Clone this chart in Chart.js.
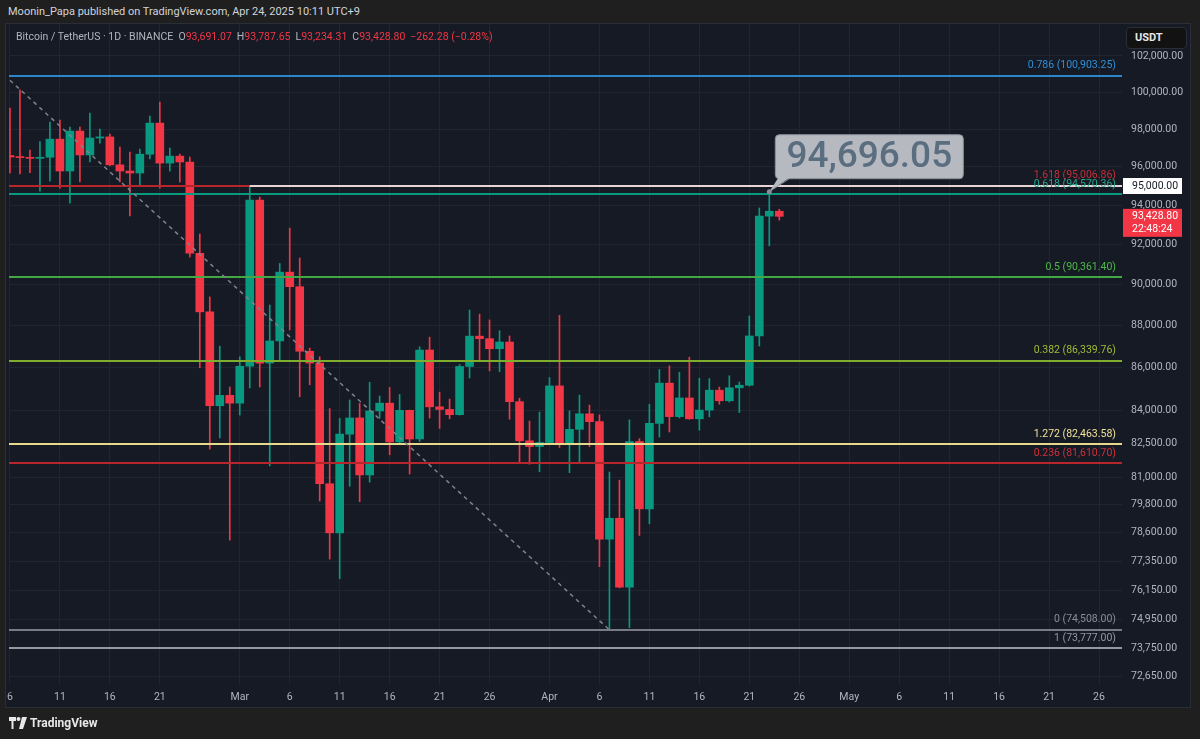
<!DOCTYPE html>
<html>
<head>
<meta charset="utf-8">
<script src="https://cdn.jsdelivr.net/npm/chart.js@4/dist/chart.umd.min.js"></script>
<style>
  body { margin: 0; width: 1200px; height: 739px; overflow: hidden; background: #1f1f1f;
         font-family: Roboto, "Liberation Sans", sans-serif; }
  #title { position: absolute; left: 8px; top: 5px; font-size: 11px; color: #d1d4dc; white-space: nowrap; }
  #panel { position: absolute; left: 5px; top: 23px; width: 1186px; height: 685px; background: #161a25;
           border: 1px solid #2a2e39; box-sizing: border-box; }
  #chart { position: absolute; left: 0; top: 0; }
  #legend { position: absolute; left: 16px; top: 30px; font-size: 10.5px; color: #b2b5be; white-space: nowrap; }
  #legend .v { color: #f23645; margin-right: 5px; }
  #usdt { position: absolute; left: 1126px; top: 27px; width: 61px; height: 22px; background: #121212;
          border: 1px solid #2a2e39; border-radius: 4px; box-sizing: border-box; color: #e6e6e6;
          font-size: 11px; font-weight: bold; line-height: 20px; padding-left: 8px; }
  #logo { position: absolute; left: 9px; top: 716px; font-size: 12px; font-weight: bold; color: #e8e8e8;
          display: flex; align-items: center; gap: 3px; }
</style>
</head>
<body>
<div id="title">Moonin_Papa published on TradingView.com, Apr 24, 2025 10:11 UTC+9</div>
<div id="panel"></div>
<canvas id="chart" width="1200" height="739"></canvas>
<div id="legend">Bitcoin / TetherUS · 1D · BINANCE&nbsp;&nbsp;O<span class="v">93,691.07</span>H<span class="v">93,787.65</span>L<span class="v">93,234.31</span>C<span class="v">93,428.80</span><span class="v">−262.28 (−0.28%)</span></div>
<div id="usdt">USDT</div>
<div id="logo">
  <svg width="18" height="12" viewBox="0 0 18 12"><path d="M0 0h7v4H4.5v8H2.5V4H0z M13 0h5l-4 12h-4z" fill="#e8e8e8"/><circle cx="9.5" cy="2" r="2" fill="#e8e8e8"/></svg>
  <span>TradingView</span>
</div>
<script>
// daily candles, BTC/USDT, first candle = 2025-02-06
const opens = [96590, 96510, 96480, 96440, 96500, 97460, 95775, 97890, 96620, 97520,
  97580, 96100, 95775, 95670, 96660, 98320, 96190, 96560, 96250, 91560,
  88670, 84230, 84710, 84350, 86070, 94267, 86221, 87270, 90620, 89900,
  86780, 86221, 80710, 78570, 82930, 83670, 81100, 83990, 84350, 82580,
  84020, 82710, 86840, 84180, 84060, 83820, 86060, 87500, 87380, 86900,
  87220, 84420, 82630, 82370, 82550, 85150, 82520, 83150, 83860, 83500,
  78300, 79200, 76270, 82600, 79610, 83420, 85280, 83730, 84590, 83630,
  84030, 84950, 84460, 85060, 85180, 87510, 93440, 93691.07];
const highs = [99135, 100120, 96880, 97330, 98370, 98485, 98110, 98110, 98860, 98000,
  97734, 97040, 96776, 96935, 98700, 99460, 96988, 96670, 96512, 92530,
  89400, 87020, 85100, 86520, 95000, 94421, 89002, 91050, 92830, 91320,
  86930, 86520, 84100, 83650, 84500, 84340, 85320, 84680, 85080, 84750,
  84030, 86990, 87450, 84860, 84540, 86150, 88760, 88560, 88280, 87760,
  87510, 84580, 83530, 83940, 85540, 88500, 83990, 84720, 84260, 83810,
  81230, 80870, 83580, 82730, 84300, 85920, 86090, 85790, 86500, 85510,
  85490, 85096, 85620, 85330, 88470, 93860, 94696.05, 93787.65];
const lows = [95670, 95620, 95690, 94720, 95250, 94880, 94100, 95200, 96250, 97250,
  96060, 95200, 93450, 94990, 96406, 94880, 95775, 95200, 91372, 86000,
  82257, 82760, 78260, 83800, 85050, 85100, 81500, 86350, 87800, 84650,
  85200, 79950, 77450, 76620, 80600, 79920, 80780, 83650, 82000, 82510,
  81140, 82600, 83660, 83190, 83630, 83800, 85520, 86310, 85850, 85810,
  83610, 81630, 81580, 81240, 82450, 82330, 81200, 81640, 82360, 77130,
  74508, 76240, 74600, 78460, 78960, 82800, 83030, 83670, 83610, 83110,
  83720, 84300, 84400, 83920, 85143, 87030, 91930, 93234.31];
const closes = [96510, 96480, 96440, 96500, 97460, 95775, 97890, 96620, 97520, 97580,
  96100, 95775, 95670, 96660, 98320, 96190, 96560, 96250, 91560, 88670,
  84230, 84710, 84350, 86070, 94267, 86221, 87270, 90620, 89900, 86780,
  86221, 80710, 78570, 82930, 83670, 81100, 83990, 84350, 82580, 84020,
  82710, 86840, 84180, 84060, 83820, 86060, 87500, 87380, 86900, 87220,
  84420, 82630, 82370, 82550, 85150, 82520, 83150, 83860, 83500, 78300,
  79200, 76270, 82600, 79610, 83420, 85280, 83730, 84590, 83630, 84030,
  84950, 84460, 85060, 85180, 87510, 93440, 93691.07, 93428.80];

// x axis: day numbers counted from 2025-02-06
const xTickDays = [0, 5, 10, 15, 23, 28, 33, 38, 43, 48, 54, 59, 64, 69, 74, 79, 84, 89, 94, 99, 104, 109];
const xTickLabels = ['6', '11', '16', '21', 'Mar', '6', '11', '16', '21', '26', 'Apr', '6', '11', '16', '21', '26', 'May', '6', '11', '16', '21', '26'];
const yTickValues = [102000, 100000, 98000, 96000, 94000, 92000, 90000, 88000, 86000, 84000, 82500,
  81000, 79800, 78600, 77350, 76150, 74950, 73750, 72650];

// fib levels drawn on the chart
const fibRatios = ['0.786', '1.618', '0.618', '0.5', '0.382', '1.272', '0.236', '0', '1'];
const fibLevels = [100903.25, 95006.86, 94570.36, 90361.40, 86339.76, 82463.58, 81610.70, 74508.00, 73777.00];
const fibColors = ['#2a86c9', '#b8262c', '#089981', '#43a843', '#7fae2e', '#e6d98c', '#b8262c', '#787b86', '#9598a1'];
const fibTextColors = ['#2f8fd8', '#c62f36', '#22a78b', '#4cbb45', '#9cbb36', '#f0e29b', '#d03038', '#8a8d96', '#9598a1'];

// horizontal ray at 95,000 from the 2 Mar high, trend line, and the high callout
const rayPrice = 95000;
const rayStartDay = 24;
const trendDays = [0, 60];
const trendPrices = [100650, 74508];
const calloutDay = 76;
const calloutPrice = 94696.05;
const lastPrice = 93428.80;
const countdown = '22:48:24';

const green = '#089981';
const red = '#f23645';
const gridColor = '#212531';
const fmt = v => v.toLocaleString('en-US', { minimumFractionDigits: 2, maximumFractionDigits: 2 });

const candleColors = opens.map((o, i) => closes[i] >= o ? green : red);

const overlay = {
  id: 'overlay',
  afterDatasetsDraw(chart) {
    const { ctx, chartArea: a } = chart;
    const x = chart.scales.x, y = chart.scales.y;
    ctx.save();
    ctx.beginPath();
    ctx.rect(a.left, a.top, a.right - a.left, a.bottom - a.top);
    ctx.clip();

    ctx.lineWidth = 2;
    fibLevels.forEach((v, i) => {
      const py = Math.round(y.getPixelForValue(v));
      ctx.strokeStyle = fibColors[i];
      ctx.beginPath();
      ctx.moveTo(a.left, py);
      ctx.lineTo(a.right, py);
      ctx.stroke();
    });

    const ry = Math.round(y.getPixelForValue(rayPrice));
    ctx.strokeStyle = '#e8d4d4';
    ctx.beginPath();
    ctx.moveTo(x.getPixelForValue(rayStartDay), ry);
    ctx.lineTo(a.right, ry);
    ctx.stroke();

    ctx.strokeStyle = '#80838c';
    ctx.lineWidth = 1.5;
    ctx.setLineDash([4, 4]);
    ctx.beginPath();
    ctx.moveTo(x.getPixelForValue(trendDays[0]), y.getPixelForValue(trendPrices[0]));
    ctx.lineTo(x.getPixelForValue(trendDays[1]), y.getPixelForValue(trendPrices[1]));
    ctx.stroke();
    ctx.setLineDash([]);

    ctx.font = '10.5px Roboto, "Liberation Sans", sans-serif';
    ctx.textAlign = 'right';
    ctx.textBaseline = 'middle';
    fibLevels.forEach((v, i) => {
      ctx.fillStyle = fibTextColors[i];
      ctx.fillText(fibRatios[i] + ' (' + fmt(v) + ')', a.right - 6, y.getPixelForValue(v) - 10);
    });

    // callout for the 23 Apr high
    const px = x.getPixelForValue(calloutDay);
    const py = y.getPixelForValue(calloutPrice);
    const bx = px + 6, by = py - 57, bw = 188, bh = 44;
    ctx.fillStyle = '#b6b9c0';
    ctx.strokeStyle = '#8c9099';
    ctx.lineWidth = 1;
    ctx.beginPath();
    ctx.roundRect(bx, by, bw, bh, 4);
    ctx.fill();
    ctx.stroke();
    ctx.beginPath();
    ctx.moveTo(bx + 3, by + bh - 1);
    ctx.lineTo(bx + 14, by + bh - 1);
    ctx.lineTo(px, py);
    ctx.closePath();
    ctx.fill();
    ctx.beginPath();
    ctx.moveTo(bx + 14, by + bh);
    ctx.lineTo(px, py);
    ctx.stroke();
    ctx.fillStyle = '#8a8e96';
    ctx.beginPath();
    ctx.arc(px, py, 2.5, 0, Math.PI * 2);
    ctx.fill();
    ctx.fillStyle = '#5b6e80';
    ctx.font = '500 37px Roboto, "Liberation Sans", sans-serif';
    ctx.textAlign = 'center';
    ctx.fillText(fmt(calloutPrice), bx + bw / 2, by + bh / 2 + 1);
    ctx.restore();

    // price labels on the axis
    ctx.save();
    ctx.font = '10.5px Roboto, "Liberation Sans", sans-serif';
    ctx.textAlign = 'left';
    ctx.textBaseline = 'middle';
    ctx.fillStyle = '#ffffff';
    ctx.fillRect(a.right + 1, ry - 8, 59, 16);
    ctx.fillStyle = '#131722';
    ctx.fillText(fmt(rayPrice), a.right + 10, ry);

    const ly = y.getPixelForValue(lastPrice);
    ctx.fillStyle = red;
    ctx.fillRect(a.right + 1, ly - 7.5, 59, 28);
    ctx.fillStyle = '#ffffff';
    ctx.fillText(fmt(lastPrice), a.right + 10, ly);
    ctx.fillText(countdown, a.right + 10, ly + 13);
    ctx.restore();
  }
};

new Chart(document.getElementById('chart'), {
  type: 'bar',
  data: {
    datasets: [
      {
        label: 'body',
        data: opens.map((o, i) => ({ x: i, y: [o, closes[i]] })),
        backgroundColor: candleColors,
        barThickness: 8,
        minBarLength: 1,
        grouped: false,
        clip: 0,
        order: 0
      },
      {
        label: 'wick',
        data: lows.map((l, i) => ({ x: i, y: [l, highs[i]] })),
        backgroundColor: candleColors,
        barThickness: 1,
        grouped: false,
        clip: 0,
        order: 1
      }
    ]
  },
  options: {
    responsive: false,
    animation: false,
    devicePixelRatio: 1,
    layout: { padding: { left: 8, top: 24, right: 9, bottom: 32 } },
    plugins: { legend: { display: false }, tooltip: { enabled: false } },
    scales: {
      x: {
        type: 'linear',
        min: -0.1,
        max: 111.3,
        offset: false,
        grid: { color: gridColor, drawTicks: false, offset: false },
        border: { display: false },
        afterBuildTicks: s => { s.ticks = xTickDays.map(v => ({ value: v })); },
        afterFit: s => { s.height = 23; },
        ticks: {
          autoSkip: false, maxRotation: 0, padding: 7, color: '#b2b5be',
          font: { size: 10.5, family: 'Roboto, "Liberation Sans", sans-serif' },
          callback: (v, i) => xTickLabels[i]
        }
      },
      y: {
        type: 'logarithmic',
        position: 'right',
        min: 72333,
        max: 103799,
        grid: { color: gridColor, drawTicks: false },
        border: { display: false },
        afterBuildTicks: s => { s.ticks = yTickValues.map(v => ({ value: v })); },
        afterFit: s => { s.width = 69; },
        ticks: {
          padding: 9, color: '#b2b5be',
          font: { size: 10.5, family: 'Roboto, "Liberation Sans", sans-serif' },
          callback: v => fmt(v)
        }
      }
    }
  },
  plugins: [overlay]
});
</script>
</body>
</html>
